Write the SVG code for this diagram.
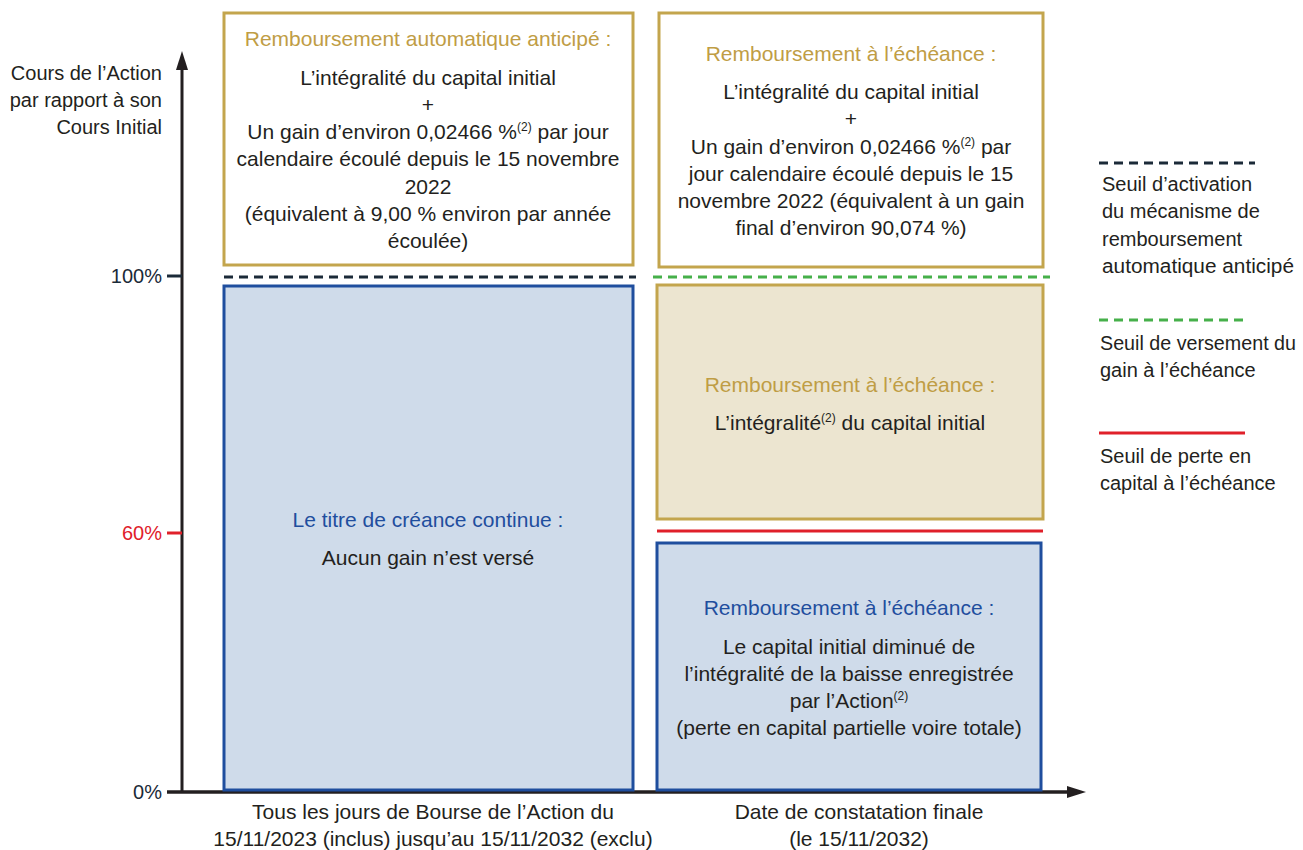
<svg xmlns="http://www.w3.org/2000/svg" width="1303" height="850" viewBox="0 0 1303 850">
<style>
text{font-family:"Liberation Sans",Arial,sans-serif;font-size:21px;fill:#231f20}
.c{text-anchor:middle}
.r{text-anchor:end}
.ax{font-size:20px}
.lg{font-size:20px}
.gold{fill:#bf9d45}
.blue{fill:#1f4e9e}
.navy{fill:#1b2a38}
.red{fill:#e0202a}
.sup{font-size:12px}
.bgold{fill:#ffffff;stroke:#c3a54d;stroke-width:3}
.bbeige{fill:#ece5d0;stroke:#c3a54d;stroke-width:3}
.bblue{fill:#cfdbea;stroke:#1f4e9e;stroke-width:3}
</style>
<rect width="1303" height="850" fill="#ffffff"/>

<g id="axes">
<line x1="182" y1="792" x2="182" y2="64" stroke="#231f20" stroke-width="3"/>
<polygon points="182,51 176,70 188,70" fill="#231f20"/>
<line x1="167" y1="792" x2="1070" y2="792" stroke="#231f20" stroke-width="3.5"/>
<polygon points="1086,792 1067,786 1067,798" fill="#231f20"/>
<line x1="167" y1="276" x2="182" y2="276" stroke="#1b2a38" stroke-width="3"/>
<line x1="167" y1="533" x2="182" y2="533" stroke="#e0202a" stroke-width="3"/>
<text class="r ax" x="162" y="80">Cours de l’Action</text>
<text class="r ax" x="162" y="107">par rapport à son</text>
<text class="r ax" x="162" y="134">Cours Initial</text>
<text class="r navy ax" x="162" y="283">100%</text>
<text class="r red ax" x="162" y="540">60%</text>
<text class="r navy ax" x="162" y="799">0%</text>
<text class="c" x="433" y="819">Tous les jours de Bourse de l’Action du</text>
<text class="c" x="433" y="846">15/11/2023 (inclus) jusqu’au 15/11/2032 (exclu)</text>
<text class="c" x="859" y="819">Date de constatation finale</text>
<text class="c" x="859" y="846">(le 15/11/2032)</text>
</g>

<g id="node-autocall">
<rect class="bgold" x="224" y="13" width="409" height="252"/>
<text class="c gold" x="428" y="46">Remboursement automatique anticipé :</text>
<text class="c" x="428" y="85">L’intégralité du capital initial</text>
<text class="c" x="428" y="112">+</text>
<text class="c" x="428" y="139">Un gain d’environ 0,02466 %<tspan class="sup" dy="-8">(2)</tspan><tspan dy="8"> par jour</tspan></text>
<text class="c" x="428" y="166">calendaire écoulé depuis le 15 novembre</text>
<text class="c" x="428" y="194">2022</text>
<text class="c" x="428" y="221">(équivalent à 9,00 % environ par année</text>
<text class="c" x="428" y="248">écoulée)</text>
</g>

<g id="node-continue">
<rect class="bblue" x="224" y="286" width="409" height="504"/>
<text class="c blue" x="428" y="527">Le titre de créance continue :</text>
<text class="c" x="428" y="565">Aucun gain n’est versé</text>
</g>

<g id="node-gain">
<rect class="bgold" x="659" y="13" width="384" height="254"/>
<text class="c gold" x="851" y="61">Remboursement à l’échéance :</text>
<text class="c" x="851" y="99">L’intégralité du capital initial</text>
<text class="c" x="851" y="126">+</text>
<text class="c" x="851" y="154">Un gain d’environ 0,02466 %<tspan class="sup" dy="-8">(2)</tspan><tspan dy="8"> par</tspan></text>
<text class="c" x="851" y="181">jour calendaire écoulé depuis le 15</text>
<text class="c" x="851" y="208">novembre 2022 (équivalent à un gain</text>
<text class="c" x="851" y="235">final d’environ 90,074 %)</text>
</g>

<g id="node-capital">
<rect class="bbeige" x="657" y="285" width="386" height="234"/>
<text class="c gold" x="850" y="392">Remboursement à l’échéance :</text>
<text class="c" x="850" y="430">L’intégralité<tspan class="sup" dy="-8">(2)</tspan><tspan dy="8"> du capital initial</tspan></text>
</g>

<g id="node-loss">
<rect class="bblue" x="657" y="543" width="384" height="247"/>
<text class="c blue" x="849" y="615">Remboursement à l’échéance :</text>
<text class="c" x="849" y="654">Le capital initial diminué de</text>
<text class="c" x="849" y="681">l’intégralité de la baisse enregistrée</text>
<text class="c" x="849" y="708">par l’Action<tspan class="sup" dy="-8">(2)</tspan></text>
<text class="c" x="849" y="735">(perte en capital partielle voire totale)</text>
</g>

<g id="thresholds">
<line x1="224" y1="277" x2="636" y2="277" stroke="#1b2a38" stroke-width="3" stroke-dasharray="9,6"/>
<line x1="653" y1="277" x2="1050" y2="277" stroke="#46b04a" stroke-width="3" stroke-dasharray="9,6"/>
<line x1="657" y1="531" x2="1043" y2="531" stroke="#e0202a" stroke-width="3"/>
</g>

<g id="legend">
<line x1="1099" y1="163" x2="1255" y2="163" stroke="#1b2a38" stroke-width="3" stroke-dasharray="9,6"/>
<text class="lg" x="1102" y="191">Seuil d’activation</text>
<text class="lg" x="1102" y="218">du mécanisme de</text>
<text class="lg" x="1102" y="246">remboursement</text>
<text class="lg" x="1102" y="273" textLength="192" lengthAdjust="spacingAndGlyphs">automatique anticipé</text>
<line x1="1099" y1="320" x2="1245" y2="320" stroke="#46b04a" stroke-width="3" stroke-dasharray="9,6"/>
<text class="lg" x="1100" y="350" textLength="196" lengthAdjust="spacingAndGlyphs">Seuil de versement du</text>
<text class="lg" x="1100" y="377">gain à l’échéance</text>
<line x1="1099" y1="433" x2="1245" y2="433" stroke="#e0202a" stroke-width="3"/>
<text class="lg" x="1100" y="463">Seuil de perte en</text>
<text class="lg" x="1100" y="490">capital à l’échéance</text>
</g>
</svg>
